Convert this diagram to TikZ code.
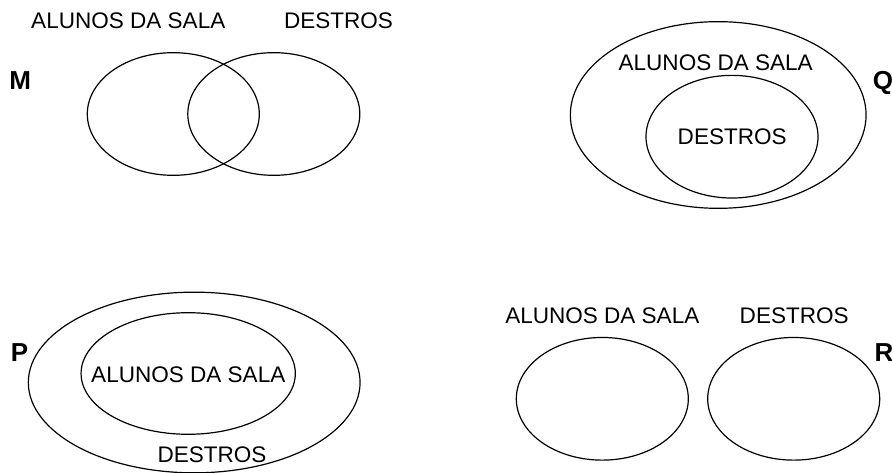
\documentclass[tikz,border=0pt]{standalone}
\usepackage{fontspec}
\setmainfont{Liberation Sans}
\usetikzlibrary{shapes.geometric}

\begin{document}
\begin{tikzpicture}
  [x=0.75pt, y=-0.75pt, line width=0.9pt,
   set/.style={draw, ellipse, inner sep=0pt},
   small set/.style={set, minimum width=129pt, minimum height=92pt},
   caption/.style={inner sep=0pt, anchor=base, font=\fontsize{16.9}{20}\selectfont},
   letter/.style={caption, font=\fontsize{19.5}{23}\selectfont\bfseries}]
  \useasboundingbox (0,0) rectangle (892,473);

  % M
  \node [name=mLetter, letter] at (20.2,89.3) {M};
  \node [name=mAlunos, small set] at (173.3,114) {};
  \node [name=mDestros, small set] at (273.8,114) {};
  \node [name=mAlunosTxt, caption] at (128.3,29) {ALUNOS DA SALA};
  \node [name=mDestrosTxt, caption] at (338.5,29) {DESTROS};

  % Q
  \node [name=qLetter, letter] at (883,89.3) {Q};
  \node [name=qAlunos, set, minimum width=221.8pt, minimum height=140pt] at (718.2,115) {};
  \node [name=qDestros, small set] at (732,136.7) {};
  \node [name=qAlunosTxt, caption] at (715.7,70.7) {ALUNOS DA SALA};
  \node [name=qDestrosTxt, caption] at (732.2,145) {DESTROS};

  % P
  \node [name=pLetter, letter] at (19.5,361.2) {P};
  \node [name=pDestros, set, minimum width=248.8pt, minimum height=135.5pt] at (194.2,382.5) {};
  \node [name=pAlunos, set, minimum width=160.7pt, minimum height=91.2pt] at (188.2,373.5) {};
  \node [name=pAlunosTxt, caption] at (188.3,382.7) {ALUNOS DA SALA};
  \node [name=pDestrosTxt, caption] at (212,462.7) {DESTROS};

  % R
  \node [name=rLetter, letter] at (884,361.2) {R};
  \node [name=rAlunos, small set] at (602.3,398.8) {};
  \node [name=rDestros, small set] at (793.7,398.8) {};
  \node [name=rAlunosTxt, caption] at (602.3,323.3) {ALUNOS DA SALA};
  \node [name=rDestrosTxt, caption] at (794.2,323.3) {DESTROS};
\end{tikzpicture}
\end{document}
